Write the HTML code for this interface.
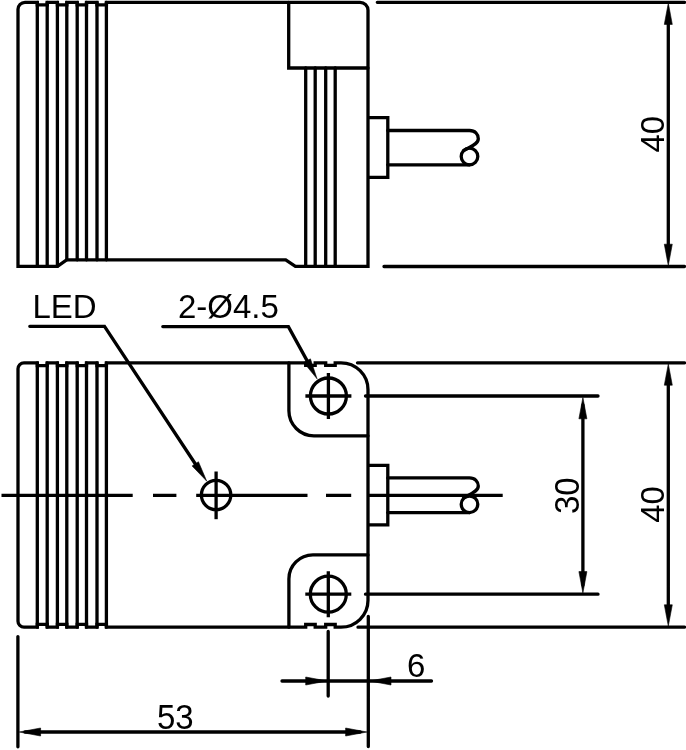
<!DOCTYPE html>
<html><head><meta charset="utf-8">
<style>
html,body{margin:0;padding:0;background:#fff;}
body{width:686px;height:750px;overflow:hidden;}
svg{display:block;will-change:transform;}
text{font-family:"Liberation Sans", sans-serif;font-size:33px;fill:#000;}
</style></head>
<body>
<svg width="686" height="750" viewBox="0 0 686 750">
<g fill="none" stroke="#000" stroke-width="3.3" stroke-linecap="round" stroke-linejoin="miter">
<path d="M18,266.3 V9.3 A7,7 0 0 1 25,2.3 H37.3 V4.9 H47.2 V2.3 H57.4 V4.9 H66.8 V2.3 H77.2 V4.9 H86.5 V2.3 H97 V4.9 H106.4 V2.3 H360 A8,8 0 0 1 368,10.3 V266.3 H295.4 L285.7,259.8 H66.6 L57.5,266.3 Z"/>
<path d="M37.3,2.3 V266.3 M47.2,2.3 V266.3 M57.4,2.3 V266.3 M66.8,2.3 V259.8 M77.2,2.3 V259.8 M86.5,2.3 V259.8 M97,2.3 V259.8 M106.4,2.3 V259.8"/>
<path d="M288.7,2.3 V68 H368"/>
<path d="M305.7,68 V266.3 M315.2,68 V266.3 M325.7,68 V266.3 M335.2,68 V266.3"/>
<path stroke-linecap="butt" d="M368,117.7 H387.8 V177.3 H368"/>
<path d="M387.8,130.5 H469.5 C475.0,130.5 478.3,134.2 478.3,138.7 C478.3,144.2 470.0,146.7 463.5,150.7"/><path d="M387.8,164.8 H469.5"/><circle cx="469.5" cy="156.5" r="8.3"/>
<path d="M377.3,2.3 H684.5 M384,266.5 H684.5"/>
<path d="M668.3,15 V255"/>
<path d="M18,621.2 V368.8 A6,6 0 0 1 24,362.8 H37.3 V365.6 H47.2 V362.8 H57.4 V365.6 H66.8 V362.8 H77.2 V365.6 H86.5 V362.8 H97 V365.6 H106.4 V362.8 H305.7 V365.4 H315.2 V362.8 H325.7 V365.4 H335.2 V362.8 H341 A27,27 0 0 1 368,389.8 V600.2 A27,27 0 0 1 341,627.2 H335.2 V624.5 H325.7 V627.2 H315.2 V624.5 H305.7 V627.2 H106.4 V624.4 H97 V627.2 H86.5 V624.4 H77.2 V627.2 H66.8 V624.4 H57.4 V627.2 H47.2 V624.4 H37.3 V627.2 H24 A6,6 0 0 1 18,621.2 Z"/>
<path d="M37.3,362.8 V627.2 M47.2,362.8 V627.2 M57.4,362.8 V627.2 M66.8,362.8 V627.2 M77.2,362.8 V627.2 M86.5,362.8 V627.2 M97,362.8 V627.2 M106.4,362.8 V627.2"/>
<path d="M288.9,362.8 V410.8 A25,25 0 0 0 313.9,435.8 H368"/>
<path d="M368,554.9 H312.9 A24,24 0 0 0 288.9,578.9 V627.2"/>
<circle cx="328.4" cy="396" r="18"/>
<path stroke-linecap="butt" d="M305.4,396 H351.4 M328.4,373 V419"/>
<circle cx="328.3" cy="594.2" r="18"/>
<path stroke-linecap="butt" d="M305.3,594.2 H351.3 M328.3,571.2 V617.2"/>
<circle cx="216.1" cy="495" r="14.7"/>
<path stroke-linecap="butt" d="M216.1,471.5 V519.2"/>
<path stroke-linecap="butt" d="M1.5,495.3 H132.7 M153,495.3 H176.4 M196.2,495.3 H307.5 M326,495.3 H351.2 M368,495.3 H502.7"/>
<path stroke-linecap="butt" d="M368,465.4 H387.8 V524.8 H368"/>
<path d="M387.8,477.9 H469.5 C475.0,477.9 478.3,481.59999999999997 478.3,486.09999999999997 C478.3,491.59999999999997 470.0,494.09999999999997 463.5,498.09999999999997"/><path d="M387.8,512.6 H469.5"/><circle cx="469.5" cy="504.3" r="8.3"/>
<path d="M357.5,362.8 H684.5 M365.5,396 H598 M365.5,594.2 H598 M358,627.2 H684.5"/>
<path d="M668.3,375 V615 M582.9,405 V585"/>
<path d="M328.2,631.5 V696 M368.3,616.5 V746.5 M17.9,636.6 V746.8"/>
<path d="M282,681 H431.5 M25,732 H360"/>
<path d="M29.8,326.3 H104.5 L196.21,465.26"/>
<path d="M162.8,326.6 H288.4 L308.28,362.86"/>
</g>
<g fill="#000" stroke="#000" stroke-width="0.6" stroke-linejoin="round">
<path d="M668.30,3.10 L664.30,24.40 L672.30,24.40 Z"/>
<path d="M668.30,265.50 L672.30,244.20 L664.30,244.20 Z"/>
<path d="M668.30,363.90 L664.30,385.20 L672.30,385.20 Z"/>
<path d="M668.30,626.10 L672.30,604.80 L664.30,604.80 Z"/>
<path d="M582.90,397.50 L578.90,418.80 L586.90,418.80 Z"/>
<path d="M582.90,592.90 L586.90,571.60 L578.90,571.60 Z"/>
<path d="M327.00,681.00 L305.70,677.00 L305.70,685.00 Z"/>
<path d="M369.70,681.00 L391.00,685.00 L391.00,677.00 Z"/>
<path d="M19.30,732.00 L40.60,736.00 L40.60,728.00 Z"/>
<path d="M366.90,732.00 L345.60,728.00 L345.60,736.00 Z"/>
<path d="M206.68,481.12 L198.44,461.75 L192.10,465.93 Z"/>
<path d="M317.04,378.84 L310.42,358.86 L303.76,362.51 Z"/>
</g>
<g>
<text transform="translate(32.5,317.9) scale(1,1.0)">LED</text>
<text transform="translate(178,317.7) scale(1,1.02)">2-Ø4.5</text>
<text transform="translate(157,728.5) scale(1,1.04)">53</text>
<text transform="translate(407,677.3) scale(1,1.03)">6</text>
<text transform="translate(663.8,152.5) rotate(-90) scale(1,1.03)">40</text>
<text transform="translate(663.8,522.8) rotate(-90) scale(1,1.03)">40</text>
<text transform="translate(578.9,514) rotate(-90) scale(1,1.05)">30</text>
</g>
</svg>
</body></html>
